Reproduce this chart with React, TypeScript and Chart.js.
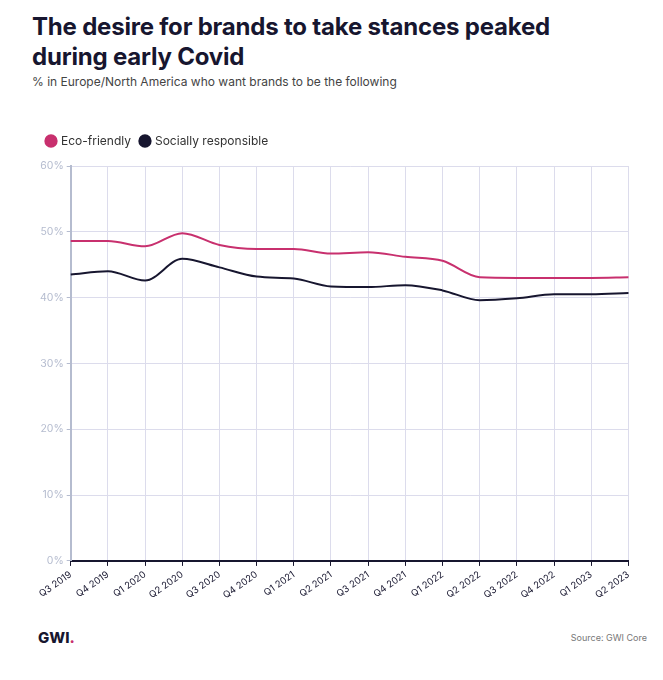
import React, { useEffect, useRef } from "react";
import { Chart, registerables } from "chart.js";
Chart.register(...registerables);

const categories = ["Q3 2019","Q4 2019","Q1 2020","Q2 2020","Q3 2020","Q4 2020","Q1 2021","Q2 2021","Q3 2021","Q4 2021","Q1 2022","Q2 2022","Q3 2022","Q4 2022","Q1 2023","Q2 2023"];
const ecoFriendly = [48.6,48.6,47.8,49.8,48,47.4,47.4,46.7,46.9,46.2,45.6,43.1,43,43,43,43.1];
const sociallyResponsible = [43.5,44,42.6,45.9,44.6,43.2,42.9,41.7,41.6,41.9,41.1,39.6,39.9,40.5,40.5,40.7];
const yTicks = [0,10,20,30,40,50,60];

const FONT = "Inter, 'Noto Sans', sans-serif";

const legendSpacer = {
  id: "legendSpacer",
  beforeInit(chart: any) {
    const fit = chart.legend.fit;
    chart.legend.fit = function () { fit.call(this); this.height += 9; };
  },
};

export default function App() {
  const ref = useRef<HTMLCanvasElement>(null);
  useEffect(() => {
    const chart = new Chart(ref.current!, {
      type: "line",
      data: {
        labels: categories,
        datasets: [
          { label: "Eco-friendly", data: ecoFriendly, borderColor: "#c8306e", backgroundColor: "#c8306e", borderWidth: 2, pointRadius: 0, tension: 0.4, cubicInterpolationMode: "monotone" },
          { label: "Socially responsible", data: sociallyResponsible, borderColor: "#17162f", backgroundColor: "#17162f", borderWidth: 2, pointRadius: 0, tension: 0.4, cubicInterpolationMode: "monotone" },
        ],
      },
      options: {
        animation: false,
        responsive: false,
        layout: { padding: { right: 2 } },
        plugins: {
          legend: {
            position: "top", align: "start",
            labels: { usePointStyle: true, pointStyle: "circle", boxWidth: 8, boxHeight: 8, padding: 10, color: "#333", font: { family: FONT, size: 12 } },
          },
          tooltip: { enabled: false },
        },
        scales: {
          x: {
            offset: false,
            grid: { color: "#dcdcec", drawTicks: true, tickLength: 5, tickColor: "#17162f" },
            border: { color: "#17162f", width: 2 },
            ticks: { maxRotation: 35, minRotation: 35, color: "#17162f", font: { family: FONT, size: 9.5 } },
          },
          y: {
            min: 0, max: 60,
            afterBuildTicks: (ax: any) => { ax.ticks = yTicks.map(v => ({ value: v })); },
            grid: { color: "#dcdcec", tickLength: 4, tickColor: "#b5bccf" },
            border: { color: "#b5bccf", width: 2 },
            ticks: { color: "#b5bccf", font: { family: FONT, size: 10.5 }, callback: (v: any) => v + "%" },
          },
        },
      } as any,
      plugins: [legendSpacer],
    });
    return () => chart.destroy();
  }, []);
  return (
    <div style={{ fontFamily: FONT, width: 647, color: "#17162f" }}>
      <div style={{ paddingLeft: 24, paddingTop: 4 }}>
        <div style={{ fontSize: 24, fontWeight: 700, lineHeight: "30px", letterSpacing: -0.2, width: 590 }}>The desire for brands to take stances peaked during early Covid</div>
        <div style={{ fontSize: 12, color: "#444", marginTop: 2 }}>% in Europe/North America who want brands to be the following</div>
      </div>
      <div style={{ marginTop: 36, marginLeft: 29 }}>
        <canvas ref={ref} width={601} height={479} style={{ width: 601, height: 479 }} />
      </div>
      <div style={{ display: "flex", justifyContent: "space-between", padding: "24px 8px 0 30px", alignItems: "center" }}>
        <span style={{ fontWeight: 800, fontSize: 15 }}>GWI<span style={{ color: "#c8306e" }}>.</span></span>
        <span style={{ fontSize: 9, color: "#777" }}>Source: GWI Core</span>
      </div>
    </div>
  );
}
